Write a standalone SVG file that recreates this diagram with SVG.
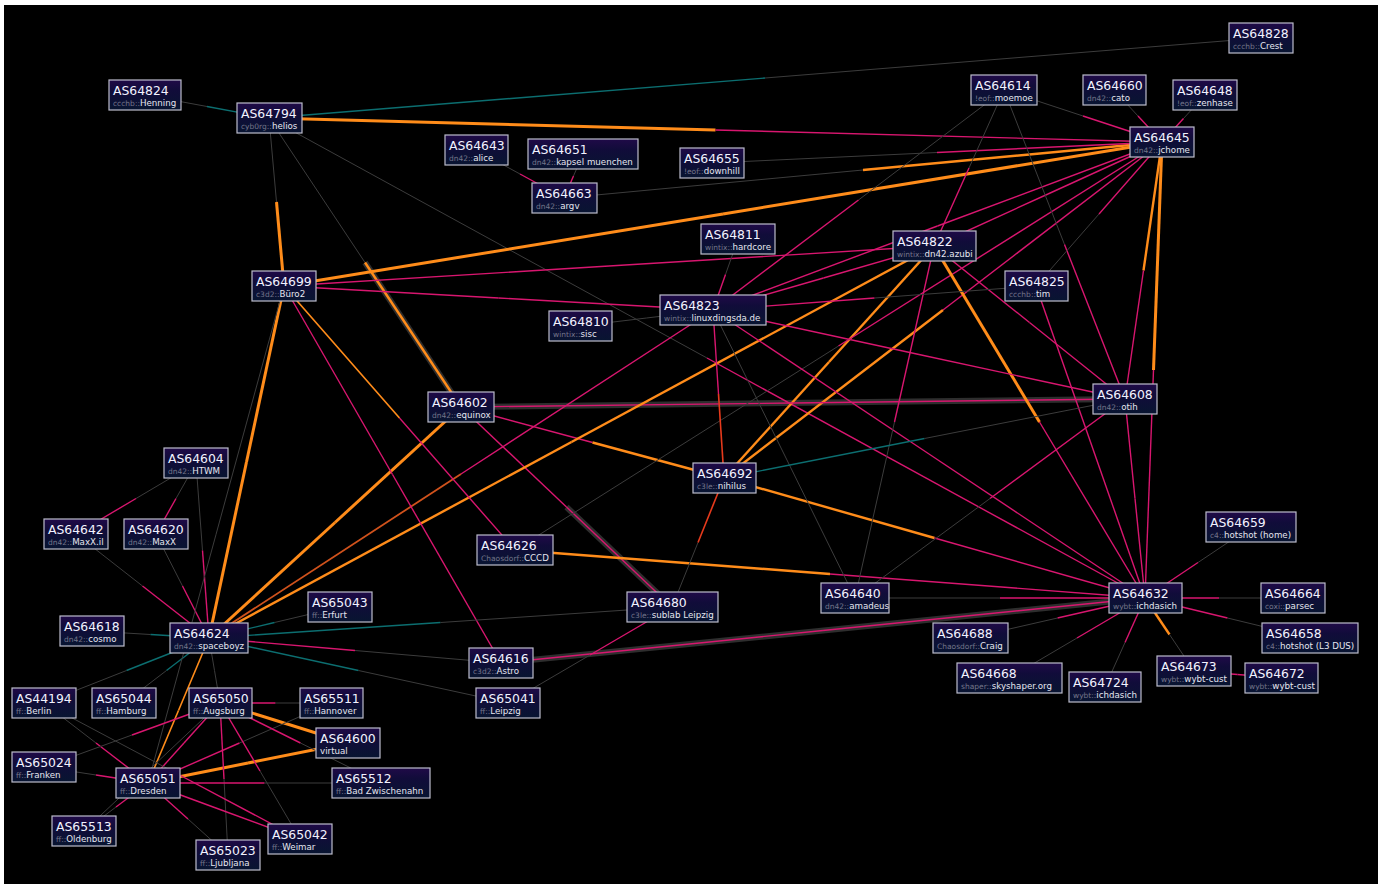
<svg xmlns="http://www.w3.org/2000/svg" width="1384" height="886" viewBox="0 0 1384 886">
<defs>
<linearGradient id="ng" x1="0" y1="0" x2="0" y2="1">
<stop offset="0" stop-color="#200a48"/>
<stop offset="0.35" stop-color="#110c3a"/>
<stop offset="1" stop-color="#081531"/>
</linearGradient>
<style>
path{fill:none;stroke-linecap:butt}
.a{stroke-dasharray:1 1}
.b{stroke-dasharray:1 1;stroke-dashoffset:1}
.P{stroke:#d8166f;stroke-width:1.4}
.O{stroke:#ff8c1a;stroke-width:2.4}
.W{stroke:#ff8c1a;stroke-width:3}
.o{stroke:#ff8c1a;stroke-width:1.6}
.G{stroke:#3c3c3c;stroke-width:1}
.T{stroke:#0c6e70;stroke-width:1.4}
.R{stroke:#e63a1c;stroke-width:1.6}
.D{stroke:#d0521c;stroke-width:1.8}
.S{stroke:#2e2e2e;stroke-width:6}
.n rect{fill:url(#ng);stroke:#bcbccc;stroke-width:1.2}
.t{font-family:"DejaVu Sans",sans-serif;font-size:12.4px;fill:#f2f2ff}
.s{font-family:"DejaVu Sans",sans-serif;font-size:8.7px;fill:#e6e6f0}
.pf{font-size:7.5px;fill:#74748a}
</style>
</defs>
<rect x="0" y="0" width="1384" height="886" fill="#ffffff"/>
<rect x="4" y="5" width="1374" height="879" fill="#000000"/>
<g id="connectors">
<path pathLength="2" class="S" d="M461 407L1125 399"/>
<path pathLength="2" class="b S" d="M269 118L461 407"/>
<path pathLength="2" class="b S" d="M461 407L672 607"/>
<path pathLength="2" class="S" d="M501 663L1145 598"/>
<path pathLength="2" class="a G" d="M145 95L269 118"/><path pathLength="2" class="b T" d="M145 95L269 118"/>
<path pathLength="2" class="a T" d="M269 118L1261 38"/><path pathLength="2" class="b G" d="M269 118L1261 38"/>
<path pathLength="2" class="a W" d="M269 118L1162 142"/><path pathLength="2" class="b P" d="M269 118L1162 142"/>
<path pathLength="2" class="a G" d="M269 118L284 286"/><path pathLength="2" class="b W" d="M269 118L284 286"/>
<path pathLength="2" class="a G" d="M269 118L461 407"/><path pathLength="2" class="b O" d="M269 118L461 407"/>
<path pathLength="2" class="a G" d="M269 118L1145 598"/><path pathLength="2" class="b P" d="M269 118L1145 598"/>
<path pathLength="2" class="a G" d="M476 150L564 198"/><path pathLength="2" class="b P" d="M476 150L564 198"/>
<path pathLength="2" class="a G" d="M583 154L564 198"/><path pathLength="2" class="b P" d="M583 154L564 198"/>
<path pathLength="2" class="a G" d="M564 198L1162 142"/><path pathLength="2" class="b O" d="M564 198L1162 142"/>
<path pathLength="2" class="a G" d="M712 163L1162 142"/><path pathLength="2" class="b P" d="M712 163L1162 142"/>
<path pathLength="2" class="a G" d="M1004 90L1162 142"/><path pathLength="2" class="b P" d="M1004 90L1162 142"/>
<path pathLength="2" class="a G" d="M1114 90L1162 142"/><path pathLength="2" class="b P" d="M1114 90L1162 142"/>
<path pathLength="2" class="a G" d="M1205 95L1162 142"/><path pathLength="2" class="b P" d="M1205 95L1162 142"/>
<path pathLength="2" class="a W" d="M284 286L1162 142"/><path pathLength="2" class="b W" d="M284 286L1162 142"/>
<path pathLength="2" class="a O" d="M724 478L1162 142"/><path pathLength="2" class="b P" d="M724 478L1162 142"/>
<path pathLength="2" class="a O" d="M724 478L934 246"/><path pathLength="2" class="b O" d="M724 478L934 246"/>
<path pathLength="2" class="a P" d="M461 407L1125 399"/><path pathLength="2" class="b P" d="M461 407L1125 399"/>
<path pathLength="2" class="a P" d="M461 407L724 478"/><path pathLength="2" class="b O" d="M461 407L724 478"/>
<path pathLength="2" class="a P" d="M461 407L672 607"/><path pathLength="2" class="b P" d="M461 407L672 607"/>
<path pathLength="2" class="a W" d="M209 638L461 407"/><path pathLength="2" class="b W" d="M209 638L461 407"/>
<path pathLength="2" class="a D" d="M209 638L713 310"/><path pathLength="2" class="b P" d="M209 638L713 310"/>
<path pathLength="2" class="a O" d="M209 638L934 246"/><path pathLength="2" class="b O" d="M209 638L934 246"/>
<path pathLength="2" class="a W" d="M209 638L284 286"/><path pathLength="2" class="b W" d="M209 638L284 286"/>
<path pathLength="2" class="a P" d="M284 286L501 663"/><path pathLength="2" class="b P" d="M284 286L501 663"/>
<path pathLength="2" class="a o" d="M284 286L515 550"/><path pathLength="2" class="b P" d="M284 286L515 550"/>
<path pathLength="2" class="a P" d="M284 286L934 246"/><path pathLength="2" class="b P" d="M284 286L934 246"/>
<path pathLength="2" class="a P" d="M284 286L713 310"/><path pathLength="2" class="b P" d="M284 286L713 310"/>
<path pathLength="2" class="a G" d="M515 550L1162 142"/><path pathLength="2" class="b P" d="M515 550L1162 142"/>
<path pathLength="2" class="a O" d="M515 550L1145 598"/><path pathLength="2" class="b P" d="M515 550L1145 598"/>
<path pathLength="2" class="a O" d="M724 478L1145 598"/><path pathLength="2" class="b P" d="M724 478L1145 598"/>
<path pathLength="2" class="a W" d="M934 246L1145 598"/><path pathLength="2" class="b P" d="M934 246L1145 598"/>
<path pathLength="2" class="a P" d="M713 310L1145 598"/><path pathLength="2" class="b P" d="M713 310L1145 598"/>
<path pathLength="2" class="a P" d="M1036 286L1145 598"/><path pathLength="2" class="b P" d="M1036 286L1145 598"/>
<path pathLength="2" class="a P" d="M1125 399L1145 598"/><path pathLength="2" class="b P" d="M1125 399L1145 598"/>
<path pathLength="2" class="a W" d="M1162 142L1145 598"/><path pathLength="2" class="b P" d="M1162 142L1145 598"/>
<path pathLength="2" class="a O" d="M1162 142L1125 399"/><path pathLength="2" class="b P" d="M1162 142L1125 399"/>
<path pathLength="2" class="a G" d="M855 598L1145 598"/><path pathLength="2" class="b P" d="M855 598L1145 598"/>
<path pathLength="2" class="a P" d="M501 663L1145 598"/><path pathLength="2" class="b P" d="M501 663L1145 598"/>
<path pathLength="2" class="a P" d="M1145 598L1251 527"/><path pathLength="2" class="b G" d="M1145 598L1251 527"/>
<path pathLength="2" class="a P" d="M1145 598L1293 598"/><path pathLength="2" class="b G" d="M1145 598L1293 598"/>
<path pathLength="2" class="a P" d="M1145 598L1310 638"/><path pathLength="2" class="b G" d="M1145 598L1310 638"/>
<path pathLength="2" class="a O" d="M1145 598L1194 671"/><path pathLength="2" class="b G" d="M1145 598L1194 671"/>
<path pathLength="2" class="a P" d="M1145 598L1105 687"/><path pathLength="2" class="b G" d="M1145 598L1105 687"/>
<path pathLength="2" class="a P" d="M1145 598L1009 678"/><path pathLength="2" class="b G" d="M1145 598L1009 678"/>
<path pathLength="2" class="a P" d="M1145 598L970 638"/><path pathLength="2" class="b G" d="M1145 598L970 638"/>
<path pathLength="2" class="a P" d="M1194 671L1281 678"/><path pathLength="2" class="b P" d="M1194 671L1281 678"/>
<path pathLength="2" class="a G" d="M713 310L855 598"/><path pathLength="2" class="b G" d="M713 310L855 598"/>
<path pathLength="2" class="a P" d="M934 246L855 598"/><path pathLength="2" class="b G" d="M934 246L855 598"/>
<path pathLength="2" class="a P" d="M1125 399L855 598"/><path pathLength="2" class="b G" d="M1125 399L855 598"/>
<path pathLength="2" class="a T" d="M724 478L1125 399"/><path pathLength="2" class="b G" d="M724 478L1125 399"/>
<path pathLength="2" class="a G" d="M672 607L724 478"/><path pathLength="2" class="b R" d="M672 607L724 478"/>
<path pathLength="2" class="a P" d="M713 310L724 478"/><path pathLength="2" class="b R" d="M713 310L724 478"/>
<path pathLength="2" class="a P" d="M672 607L508 703"/><path pathLength="2" class="b G" d="M672 607L508 703"/>
<path pathLength="2" class="a T" d="M209 638L672 607"/><path pathLength="2" class="b G" d="M209 638L672 607"/>
<path pathLength="2" class="a T" d="M209 638L508 703"/><path pathLength="2" class="b G" d="M209 638L508 703"/>
<path pathLength="2" class="a P" d="M209 638L501 663"/><path pathLength="2" class="b G" d="M209 638L501 663"/>
<path pathLength="2" class="a G" d="M92 631L209 638"/><path pathLength="2" class="b T" d="M92 631L209 638"/>
<path pathLength="2" class="a T" d="M209 638L44 703"/><path pathLength="2" class="b G" d="M209 638L44 703"/>
<path pathLength="2" class="a T" d="M209 638L124 703"/><path pathLength="2" class="b G" d="M209 638L124 703"/>
<path pathLength="2" class="a G" d="M76 534L209 638"/><path pathLength="2" class="b P" d="M76 534L209 638"/>
<path pathLength="2" class="a G" d="M156 534L209 638"/><path pathLength="2" class="b P" d="M156 534L209 638"/>
<path pathLength="2" class="a G" d="M196 463L209 638"/><path pathLength="2" class="b P" d="M196 463L209 638"/>
<path pathLength="2" class="a G" d="M196 463L76 534"/><path pathLength="2" class="b P" d="M196 463L76 534"/>
<path pathLength="2" class="a G" d="M196 463L156 534"/><path pathLength="2" class="b P" d="M196 463L156 534"/>
<path pathLength="2" class="a G" d="M340 607L209 638"/><path pathLength="2" class="b T" d="M340 607L209 638"/>
<path pathLength="2" class="a G" d="M148 783L284 286"/><path pathLength="2" class="b G" d="M148 783L284 286"/>
<path pathLength="2" class="a o" d="M209 638L148 783"/><path pathLength="2" class="b o" d="M209 638L148 783"/>
<path pathLength="2" class="a G" d="M209 638L220 703"/><path pathLength="2" class="b G" d="M209 638L220 703"/>
<path pathLength="2" class="a W" d="M220 703L348 743"/><path pathLength="2" class="b W" d="M220 703L348 743"/>
<path pathLength="2" class="a W" d="M148 783L348 743"/><path pathLength="2" class="b W" d="M148 783L348 743"/>
<path pathLength="2" class="a P" d="M220 703L331 703"/><path pathLength="2" class="b G" d="M220 703L331 703"/>
<path pathLength="2" class="a P" d="M220 703L148 783"/><path pathLength="2" class="b P" d="M220 703L148 783"/>
<path pathLength="2" class="a P" d="M148 783L331 703"/><path pathLength="2" class="b G" d="M148 783L331 703"/>
<path pathLength="2" class="a P" d="M220 703L300 839"/><path pathLength="2" class="b G" d="M220 703L300 839"/>
<path pathLength="2" class="a P" d="M220 703L381 783"/><path pathLength="2" class="b G" d="M220 703L381 783"/>
<path pathLength="2" class="a P" d="M220 703L228 855"/><path pathLength="2" class="b G" d="M220 703L228 855"/>
<path pathLength="2" class="a G" d="M44 703L148 783"/><path pathLength="2" class="b P" d="M44 703L148 783"/>
<path pathLength="2" class="a G" d="M44 703L300 839"/><path pathLength="2" class="b P" d="M44 703L300 839"/>
<path pathLength="2" class="a P" d="M148 783L300 839"/><path pathLength="2" class="b P" d="M148 783L300 839"/>
<path pathLength="2" class="a P" d="M148 783L228 855"/><path pathLength="2" class="b G" d="M148 783L228 855"/>
<path pathLength="2" class="a P" d="M148 783L381 783"/><path pathLength="2" class="b G" d="M148 783L381 783"/>
<path pathLength="2" class="a P" d="M148 783L84 831"/><path pathLength="2" class="b G" d="M148 783L84 831"/>
<path pathLength="2" class="a G" d="M84 831L220 703"/><path pathLength="2" class="b G" d="M84 831L220 703"/>
<path pathLength="2" class="a G" d="M44 767L220 703"/><path pathLength="2" class="b P" d="M44 767L220 703"/>
<path pathLength="2" class="a G" d="M44 767L148 783"/><path pathLength="2" class="b P" d="M44 767L148 783"/>
<path pathLength="2" class="a G" d="M580 326L713 310"/><path pathLength="2" class="b G" d="M580 326L713 310"/>
<path pathLength="2" class="a G" d="M738 239L713 310"/><path pathLength="2" class="b P" d="M738 239L713 310"/>
<path pathLength="2" class="a P" d="M713 310L1162 142"/><path pathLength="2" class="b P" d="M713 310L1162 142"/>
<path pathLength="2" class="a P" d="M934 246L1162 142"/><path pathLength="2" class="b P" d="M934 246L1162 142"/>
<path pathLength="2" class="a P" d="M713 310L1125 399"/><path pathLength="2" class="b P" d="M713 310L1125 399"/>
<path pathLength="2" class="a P" d="M934 246L1125 399"/><path pathLength="2" class="b P" d="M934 246L1125 399"/>
<path pathLength="2" class="a P" d="M934 246L713 310"/><path pathLength="2" class="b P" d="M934 246L713 310"/>
<path pathLength="2" class="a P" d="M713 310L1036 286"/><path pathLength="2" class="b G" d="M713 310L1036 286"/>
<path pathLength="2" class="a G" d="M1004 90L713 310"/><path pathLength="2" class="b P" d="M1004 90L713 310"/>
<path pathLength="2" class="a G" d="M1004 90L934 246"/><path pathLength="2" class="b P" d="M1004 90L934 246"/>
<path pathLength="2" class="a G" d="M1004 90L1125 399"/><path pathLength="2" class="b P" d="M1004 90L1125 399"/>
<path pathLength="2" class="a G" d="M1036 286L1162 142"/><path pathLength="2" class="b P" d="M1036 286L1162 142"/>
</g>
<g id="nodes">
<g id="as64824" class="n"><rect x="109" y="80" width="72" height="30"/><text class="t" x="113" y="94.5">AS64824</text><text class="s" x="113" y="106"><tspan class="pf">ccchb::</tspan>Henning</text></g>
<g id="as64794" class="n"><rect x="237" y="103" width="65" height="30"/><text class="t" x="241" y="117.5">AS64794</text><text class="s" x="241" y="129"><tspan class="pf">cyb0rg::</tspan>helios</text></g>
<g id="as64828" class="n"><rect x="1229" y="23" width="64" height="30"/><text class="t" x="1233" y="37.5">AS64828</text><text class="s" x="1233" y="49"><tspan class="pf">ccchb::</tspan>Crest</text></g>
<g id="as64614" class="n"><rect x="971" y="75" width="66" height="30"/><text class="t" x="975" y="89.5">AS64614</text><text class="s" x="975" y="101"><tspan class="pf">!eof::</tspan>moemoe</text></g>
<g id="as64660" class="n"><rect x="1083" y="75" width="63" height="30"/><text class="t" x="1087" y="89.5">AS64660</text><text class="s" x="1087" y="101"><tspan class="pf">dn42::</tspan>cato</text></g>
<g id="as64648" class="n"><rect x="1173" y="80" width="64" height="30"/><text class="t" x="1177" y="94.5">AS64648</text><text class="s" x="1177" y="106"><tspan class="pf">!eof::</tspan>zenhase</text></g>
<g id="as64645" class="n"><rect x="1130" y="127" width="64" height="30"/><text class="t" x="1134" y="141.5">AS64645</text><text class="s" x="1134" y="153"><tspan class="pf">dn42::</tspan>jchome</text></g>
<g id="as64643" class="n"><rect x="445" y="135" width="63" height="30"/><text class="t" x="449" y="149.5">AS64643</text><text class="s" x="449" y="161"><tspan class="pf">dn42::</tspan>alice</text></g>
<g id="as64651" class="n"><rect x="528" y="139" width="110" height="30"/><text class="t" x="532" y="153.5">AS64651</text><text class="s" x="532" y="165"><tspan class="pf">dn42::</tspan>kapsel muenchen</text></g>
<g id="as64655" class="n"><rect x="680" y="148" width="64" height="30"/><text class="t" x="684" y="162.5">AS64655</text><text class="s" x="684" y="174"><tspan class="pf">!eof::</tspan>downhill</text></g>
<g id="as64663" class="n"><rect x="532" y="183" width="65" height="30"/><text class="t" x="536" y="197.5">AS64663</text><text class="s" x="536" y="209"><tspan class="pf">dn42::</tspan>argv</text></g>
<g id="as64811" class="n"><rect x="701" y="224" width="74" height="30"/><text class="t" x="705" y="238.5">AS64811</text><text class="s" x="705" y="250"><tspan class="pf">wintix::</tspan>hardcore</text></g>
<g id="as64822" class="n"><rect x="893" y="231" width="83" height="30"/><text class="t" x="897" y="245.5">AS64822</text><text class="s" x="897" y="257"><tspan class="pf">wintix::</tspan>dn42.azubi</text></g>
<g id="as64699" class="n"><rect x="252" y="271" width="64" height="30"/><text class="t" x="256" y="285.5">AS64699</text><text class="s" x="256" y="297"><tspan class="pf">c3d2::</tspan>Büro2</text></g>
<g id="as64825" class="n"><rect x="1005" y="271" width="63" height="30"/><text class="t" x="1009" y="285.5">AS64825</text><text class="s" x="1009" y="297"><tspan class="pf">ccchb::</tspan>tim</text></g>
<g id="as64823" class="n"><rect x="660" y="295" width="106" height="30"/><text class="t" x="664" y="309.5">AS64823</text><text class="s" x="664" y="321"><tspan class="pf">wintix::</tspan>linuxdingsda.de</text></g>
<g id="as64810" class="n"><rect x="549" y="311" width="63" height="30"/><text class="t" x="553" y="325.5">AS64810</text><text class="s" x="553" y="337"><tspan class="pf">wintix::</tspan>sisc</text></g>
<g id="as64602" class="n"><rect x="428" y="392" width="66" height="30"/><text class="t" x="432" y="406.5">AS64602</text><text class="s" x="432" y="418"><tspan class="pf">dn42::</tspan>equinox</text></g>
<g id="as64608" class="n"><rect x="1093" y="384" width="64" height="30"/><text class="t" x="1097" y="398.5">AS64608</text><text class="s" x="1097" y="410"><tspan class="pf">dn42::</tspan>otih</text></g>
<g id="as64692" class="n"><rect x="693" y="463" width="63" height="30"/><text class="t" x="697" y="477.5">AS64692</text><text class="s" x="697" y="489"><tspan class="pf">c3le::</tspan>nihilus</text></g>
<g id="as64604" class="n"><rect x="164" y="448" width="64" height="30"/><text class="t" x="168" y="462.5">AS64604</text><text class="s" x="168" y="474"><tspan class="pf">dn42::</tspan>HTWM</text></g>
<g id="as64642" class="n"><rect x="44" y="519" width="64" height="30"/><text class="t" x="48" y="533.5">AS64642</text><text class="s" x="48" y="545"><tspan class="pf">dn42::</tspan>MaxX.il</text></g>
<g id="as64620" class="n"><rect x="124" y="519" width="64" height="30"/><text class="t" x="128" y="533.5">AS64620</text><text class="s" x="128" y="545"><tspan class="pf">dn42::</tspan>MaxX</text></g>
<g id="as64659" class="n"><rect x="1206" y="512" width="90" height="30"/><text class="t" x="1210" y="526.5">AS64659</text><text class="s" x="1210" y="538"><tspan class="pf">c4::</tspan>hotshot (home)</text></g>
<g id="as64626" class="n"><rect x="477" y="535" width="76" height="30"/><text class="t" x="481" y="549.5">AS64626</text><text class="s" x="481" y="561"><tspan class="pf">Chaosdorf::</tspan>CCCD</text></g>
<g id="as65043" class="n"><rect x="308" y="592" width="64" height="30"/><text class="t" x="312" y="606.5">AS65043</text><text class="s" x="312" y="618"><tspan class="pf">ff::</tspan>Erfurt</text></g>
<g id="as64680" class="n"><rect x="627" y="592" width="91" height="30"/><text class="t" x="631" y="606.5">AS64680</text><text class="s" x="631" y="618"><tspan class="pf">c3le::</tspan>sublab Leipzig</text></g>
<g id="as64640" class="n"><rect x="821" y="583" width="68" height="30"/><text class="t" x="825" y="597.5">AS64640</text><text class="s" x="825" y="609"><tspan class="pf">dn42::</tspan>amadeus</text></g>
<g id="as64632" class="n"><rect x="1109" y="583" width="73" height="30"/><text class="t" x="1113" y="597.5">AS64632</text><text class="s" x="1113" y="609"><tspan class="pf">wybt::</tspan>ichdasich</text></g>
<g id="as64664" class="n"><rect x="1261" y="583" width="64" height="30"/><text class="t" x="1265" y="597.5">AS64664</text><text class="s" x="1265" y="609"><tspan class="pf">coxi::</tspan>parsec</text></g>
<g id="as64618" class="n"><rect x="60" y="616" width="64" height="30"/><text class="t" x="64" y="630.5">AS64618</text><text class="s" x="64" y="642"><tspan class="pf">dn42::</tspan>cosmo</text></g>
<g id="as64624" class="n"><rect x="170" y="623" width="78" height="30"/><text class="t" x="174" y="637.5">AS64624</text><text class="s" x="174" y="649"><tspan class="pf">dn42::</tspan>spaceboyz</text></g>
<g id="as64688" class="n"><rect x="933" y="623" width="75" height="30"/><text class="t" x="937" y="637.5">AS64688</text><text class="s" x="937" y="649"><tspan class="pf">Chaosdorf::</tspan>Craig</text></g>
<g id="as64658" class="n"><rect x="1262" y="623" width="96" height="30"/><text class="t" x="1266" y="637.5">AS64658</text><text class="s" x="1266" y="649"><tspan class="pf">c4::</tspan>hotshot (L3 DUS)</text></g>
<g id="as64616" class="n"><rect x="469" y="648" width="64" height="30"/><text class="t" x="473" y="662.5">AS64616</text><text class="s" x="473" y="674"><tspan class="pf">c3d2::</tspan>Astro</text></g>
<g id="as64673" class="n"><rect x="1157" y="656" width="74" height="30"/><text class="t" x="1161" y="670.5">AS64673</text><text class="s" x="1161" y="682"><tspan class="pf">wybt::</tspan>wybt-cust</text></g>
<g id="as64672" class="n"><rect x="1245" y="663" width="73" height="30"/><text class="t" x="1249" y="677.5">AS64672</text><text class="s" x="1249" y="689"><tspan class="pf">wybt::</tspan>wybt-cust</text></g>
<g id="as64668" class="n"><rect x="957" y="663" width="105" height="30"/><text class="t" x="961" y="677.5">AS64668</text><text class="s" x="961" y="689"><tspan class="pf">shaper::</tspan>skyshaper.org</text></g>
<g id="as64724" class="n"><rect x="1069" y="672" width="72" height="30"/><text class="t" x="1073" y="686.5">AS64724</text><text class="s" x="1073" y="698"><tspan class="pf">wybt::</tspan>ichdasich</text></g>
<g id="as44194" class="n"><rect x="12" y="688" width="64" height="30"/><text class="t" x="16" y="702.5">AS44194</text><text class="s" x="16" y="714"><tspan class="pf">ff::</tspan>Berlin</text></g>
<g id="as65044" class="n"><rect x="92" y="688" width="64" height="30"/><text class="t" x="96" y="702.5">AS65044</text><text class="s" x="96" y="714"><tspan class="pf">ff::</tspan>Hamburg</text></g>
<g id="as65050" class="n"><rect x="189" y="688" width="63" height="30"/><text class="t" x="193" y="702.5">AS65050</text><text class="s" x="193" y="714"><tspan class="pf">ff::</tspan>Augsburg</text></g>
<g id="as65511" class="n"><rect x="300" y="688" width="63" height="30"/><text class="t" x="304" y="702.5">AS65511</text><text class="s" x="304" y="714"><tspan class="pf">ff::</tspan>Hannover</text></g>
<g id="as65041" class="n"><rect x="476" y="688" width="64" height="30"/><text class="t" x="480" y="702.5">AS65041</text><text class="s" x="480" y="714"><tspan class="pf">ff::</tspan>Leipzig</text></g>
<g id="as64600" class="n"><rect x="316" y="728" width="64" height="30"/><text class="t" x="320" y="742.5">AS64600</text><text class="s" x="320" y="754">virtual</text></g>
<g id="as65024" class="n"><rect x="12" y="752" width="64" height="30"/><text class="t" x="16" y="766.5">AS65024</text><text class="s" x="16" y="778"><tspan class="pf">ff::</tspan>Franken</text></g>
<g id="as65051" class="n"><rect x="116" y="768" width="64" height="30"/><text class="t" x="120" y="782.5">AS65051</text><text class="s" x="120" y="794"><tspan class="pf">ff::</tspan>Dresden</text></g>
<g id="as65512" class="n"><rect x="332" y="768" width="98" height="30"/><text class="t" x="336" y="782.5">AS65512</text><text class="s" x="336" y="794"><tspan class="pf">ff::</tspan>Bad Zwischenahn</text></g>
<g id="as65513" class="n"><rect x="52" y="816" width="64" height="30"/><text class="t" x="56" y="830.5">AS65513</text><text class="s" x="56" y="842"><tspan class="pf">ff::</tspan>Oldenburg</text></g>
<g id="as65042" class="n"><rect x="268" y="824" width="64" height="30"/><text class="t" x="272" y="838.5">AS65042</text><text class="s" x="272" y="850"><tspan class="pf">ff::</tspan>Weimar</text></g>
<g id="as65023" class="n"><rect x="196" y="840" width="64" height="30"/><text class="t" x="200" y="854.5">AS65023</text><text class="s" x="200" y="866"><tspan class="pf">ff::</tspan>Ljubljana</text></g>
</g>
</svg>
